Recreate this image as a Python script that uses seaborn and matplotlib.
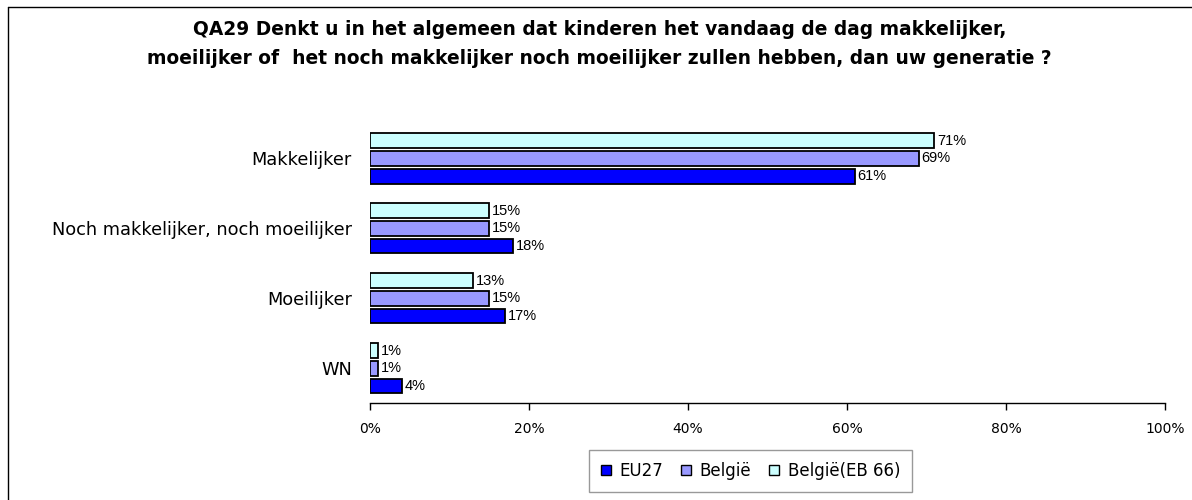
import matplotlib
matplotlib.use("Agg")
import matplotlib.pyplot as plt
import matplotlib.patches as mpatches
import matplotlib.lines as mlines
import seaborn as sns
import pandas as pd

# data
categories = ["Makkelijker", "Noch makkelijker, noch moeilijker", "Moeilijker", "WN"]
eu27 = [61, 18, 17, 4]
belgie = [69, 15, 15, 1]
belgie_eb66 = [71, 15, 13, 1]
series_names = ["EU27", "België", "België(EB 66)"]
colors = {"EU27": "#0000FF", "België": "#9999FF", "België(EB 66)": "#CCFFFF"}

title = ("QA29 Denkt u in het algemeen dat kinderen het vandaag de dag makkelijker,\n"
         "moeilijker of  het noch makkelijker noch moeilijker zullen hebben, dan uw generatie ?")

rows = []
for name, vals in zip(series_names, [eu27, belgie, belgie_eb66]):
    for cat, v in zip(categories, vals):
        rows.append({"cat": cat, "serie": name, "val": v})
df = pd.DataFrame(rows)

sns.set_style("white")
plt.rcParams["font.family"] = ["DejaVu Sans"]
for key in ["text.color", "axes.labelcolor", "xtick.color", "ytick.color"]:
    plt.rcParams[key] = "black"

fig = plt.figure(figsize=(11.92, 5.0), dpi=100)
ax = fig.add_axes([0.3104, 0.194, 0.6669, 0.559])

# inside a group, top -> bottom: EB 66, België, EU27
hue_order = ["België(EB 66)", "België", "EU27"]
sns.barplot(data=df, y="cat", x="val", hue="serie", hue_order=hue_order,
            order=categories, palette=colors, orient="h", width=0.76,
            edgecolor="black", linewidth=1.3, saturation=1, ax=ax, legend=False)

# small white gap between the bars of a group
for p in ax.patches:
    h = p.get_height()
    p.set_y(p.get_y() + h * 0.09)
    p.set_height(h * 0.82)

for cont in ax.containers:
    ax.bar_label(cont, fmt="%d%%", padding=2, fontsize=10.5,
                 family=["Liberation Sans", "DejaVu Sans"])

ax.set_xlim(0, 100)
ax.set_xticks(range(0, 101, 20))
ax.set_xticklabels([f"{t}%" for t in range(0, 101, 20)], fontsize=10)
ax.tick_params(axis="x", length=5, width=1, direction="out", bottom=True, pad=9)
ax.tick_params(axis="y", length=0, labelsize=12.8, pad=13)
ax.set_xlabel("")
ax.set_ylabel("")
ax.set_ylim(3.493, -0.5)
for s in ["top", "right", "left"]:
    ax.spines[s].set_visible(False)
ax.spines["bottom"].set_color("black")
ax.spines["bottom"].set_linewidth(1)

fig.text(0.503, 0.912, title, ha="center", va="center", fontsize=13.4,
         fontweight="bold", linespacing=1.7)

handles = [mpatches.Patch(facecolor=colors[n], edgecolor="black", label=n) for n in series_names]
leg = fig.legend(handles=handles, loc="center", bbox_to_anchor=(0.6296, 0.058), ncol=3,
                 fontsize=12, frameon=True, fancybox=False, handlelength=0.6,
                 handleheight=0.6, handletextpad=0.5, columnspacing=1.1,
                 borderpad=0.7)
leg.get_frame().set_edgecolor("#808080")
leg.get_frame().set_linewidth(1)

# outer chart frame (left and top edges visible)
fig.add_artist(mlines.Line2D([0.0063, 0.0063], [0.0, 0.986], transform=fig.transFigure,
                             color="black", linewidth=1))
fig.add_artist(mlines.Line2D([0.0063, 1.0], [0.986, 0.986], transform=fig.transFigure,
                             color="black", linewidth=1))

fig.savefig("out.png", dpi=100)
